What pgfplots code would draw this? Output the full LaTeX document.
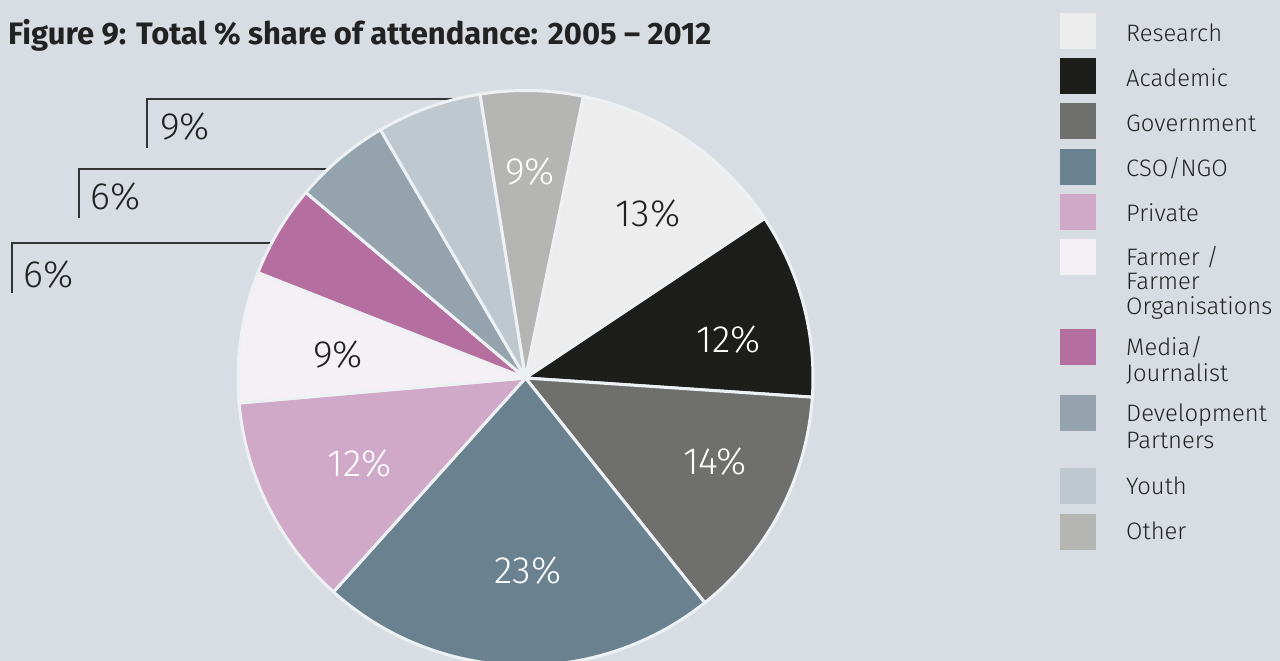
\documentclass[border=0pt]{standalone}
\usepackage{pgfplots}
\pgfplotsset{compat=1.18}
\usepackage{pgfplotstable}
\usepackage{fontspec}
\setmainfont{Fira Sans Light}[BoldFont={Fira Sans Bold}]
\definecolor{bg}{HTML}{D8DDE3}
\definecolor{edge}{HTML}{EEF1F4}
\definecolor{dark}{HTML}{222222}
\definecolor{lineC}{HTML}{333333}
\definecolor{cRes}{HTML}{EDEDED}
\definecolor{cAca}{HTML}{1D1D1B}
\definecolor{cGov}{HTML}{6F6F6E}
\definecolor{cCso}{HTML}{6A8290}
\definecolor{cPri}{HTML}{D0A8C8}
\definecolor{cFar}{HTML}{F4F0F6}
\definecolor{cMed}{HTML}{B56EA0}
\definecolor{cDev}{HTML}{94A3AD}
\definecolor{cYou}{HTML}{C0C8CF}
\definecolor{cOth}{HTML}{B5B5B3}
\newcommand\pielab{\fontsize{38}{40}\selectfont}
\newcommand\legfont{\fontsize{23.8}{25}\selectfont}
% slice share (as drawn), printed label, colours, label position (px)
\pgfplotstableread[col sep=comma]{
name,share,label,fill,txt,inside,lx,ly
Research,12.42,13,cRes,dark,1,648,214
Academic,10.42,12,cAca,white,1,729,340
Government,13.22,14,cGov,white,1,715,462
CSO/NGO,22.36,23,cCso,white,1,528,571
Private,11.97,12,cPri,white,1,360,464
Farmer,7.36,9,cFar,dark,1,338,355
Media,5.19,6,cMed,dark,0,46,275
Development,5.42,6,cDev,dark,0,113,197
Youth,5.89,9,cYou,dark,0,183,127
Other,5.75,9,cOth,white,1,530,172
}\piedata
\tikzset{leg/.style={anchor=base west, inner sep=0pt, text=dark, font=\legfont}}
\begin{document}
\begin{tikzpicture}
\begin{axis}[scale only axis, width=1280pt, height=661pt,
  xmin=0, xmax=1280, ymin=-661, ymax=0, hide axis, clip=true]
\fill[bg] (axis cs:0,-661) rectangle (axis cs:1280,0);
% title
\node[anchor=base west, text=dark, font=\bfseries\fontsize{31}{34}\selectfont, inner sep=0pt]
  at (axis cs:8,-45) {Figure 9: Total \% share of attendance: 2005 -- 2012};
% callout lines
\draw[lineC, line width=1.3pt] (axis cs:147,-148) |- (axis cs:475,-99);
\draw[lineC, line width=1.3pt] (axis cs:79,-218) |- (axis cs:345,-169);
\draw[lineC, line width=1.3pt] (axis cs:12,-293) |- (axis cs:290,-243);
% pie slices
\def\start{78.4}
\pgfplotsforeachungrouped \i in {0,...,9}{%
  \pgfplotstablegetelem{\i}{share}\of\piedata \let\sh\pgfplotsretval
  \pgfplotstablegetelem{\i}{fill}\of\piedata \let\fc\pgfplotsretval
  \pgfmathsetmacro\stop{\start-3.6*\sh}%
  \edef\temp{\noexpand\fill[\fc, draw=edge, line width=3pt, line join=round]
    (axis cs:525.5,-378) -- ++(\start:287.5pt) arc[start angle=\start, end angle=\stop, radius=287.5pt] -- cycle;}%
  \temp
  \let\start\stop
}
% labels
\pgfplotsforeachungrouped \i in {0,...,9}{%
  \pgfplotstablegetelem{\i}{label}\of\piedata \let\lb\pgfplotsretval
  \pgfplotstablegetelem{\i}{txt}\of\piedata \let\tc\pgfplotsretval
  \pgfplotstablegetelem{\i}{inside}\of\piedata \let\ins\pgfplotsretval
  \pgfplotstablegetelem{\i}{lx}\of\piedata \let\lx\pgfplotsretval
  \pgfplotstablegetelem{\i}{ly}\of\piedata \let\ly\pgfplotsretval
  \ifnum\ins=1
    \edef\temp{\noexpand\node[text=\tc, font=\noexpand\pielab, inner sep=0pt] at (axis cs:\lx,-\ly) {\lb\noexpand\%};}%
  \else
    \edef\temp{\noexpand\node[text=\tc, font=\noexpand\pielab, inner sep=0pt, anchor=west] at (axis cs:\lx-23,-\ly) {\lb\noexpand\%};}%
  \fi
  \temp
}
% legend swatches
\fill[cRes] (axis cs:1060,-13) rectangle (axis cs:1096,-49);
\fill[cAca] (axis cs:1060,-58) rectangle (axis cs:1096,-94);
\fill[cGov] (axis cs:1060,-103) rectangle (axis cs:1096,-139);
\fill[cCso] (axis cs:1060,-149) rectangle (axis cs:1096,-185);
\fill[cPri] (axis cs:1060,-194) rectangle (axis cs:1096,-230);
\fill[cFar] (axis cs:1060,-239) rectangle (axis cs:1096,-275);
\fill[cMed] (axis cs:1060,-329) rectangle (axis cs:1096,-365);
\fill[cDev] (axis cs:1060,-395) rectangle (axis cs:1096,-431);
\fill[cYou] (axis cs:1060,-468) rectangle (axis cs:1096,-504);
\fill[cOth] (axis cs:1060,-514) rectangle (axis cs:1096,-550);
% legend text
\node[leg] at (axis cs:1126,-42) {Research};
\node[leg] at (axis cs:1126,-87) {Academic};
\node[leg] at (axis cs:1126,-132) {Government};
\node[leg] at (axis cs:1126,-177) {CSO/NGO};
\node[leg] at (axis cs:1126,-222) {Private};
\node[leg] at (axis cs:1126,-266) {Farmer /};
\node[leg] at (axis cs:1126,-290) {Farmer};
\node[leg] at (axis cs:1126,-315) {Organisations};
\node[leg] at (axis cs:1126,-356) {Media/};
\node[leg] at (axis cs:1126,-382) {Journalist};
\node[leg] at (axis cs:1126,-422) {Development};
\node[leg] at (axis cs:1126,-449) {Partners};
\node[leg] at (axis cs:1126,-495) {Youth};
\node[leg] at (axis cs:1126,-540) {Other};
\end{axis}
\end{tikzpicture}
\end{document}
